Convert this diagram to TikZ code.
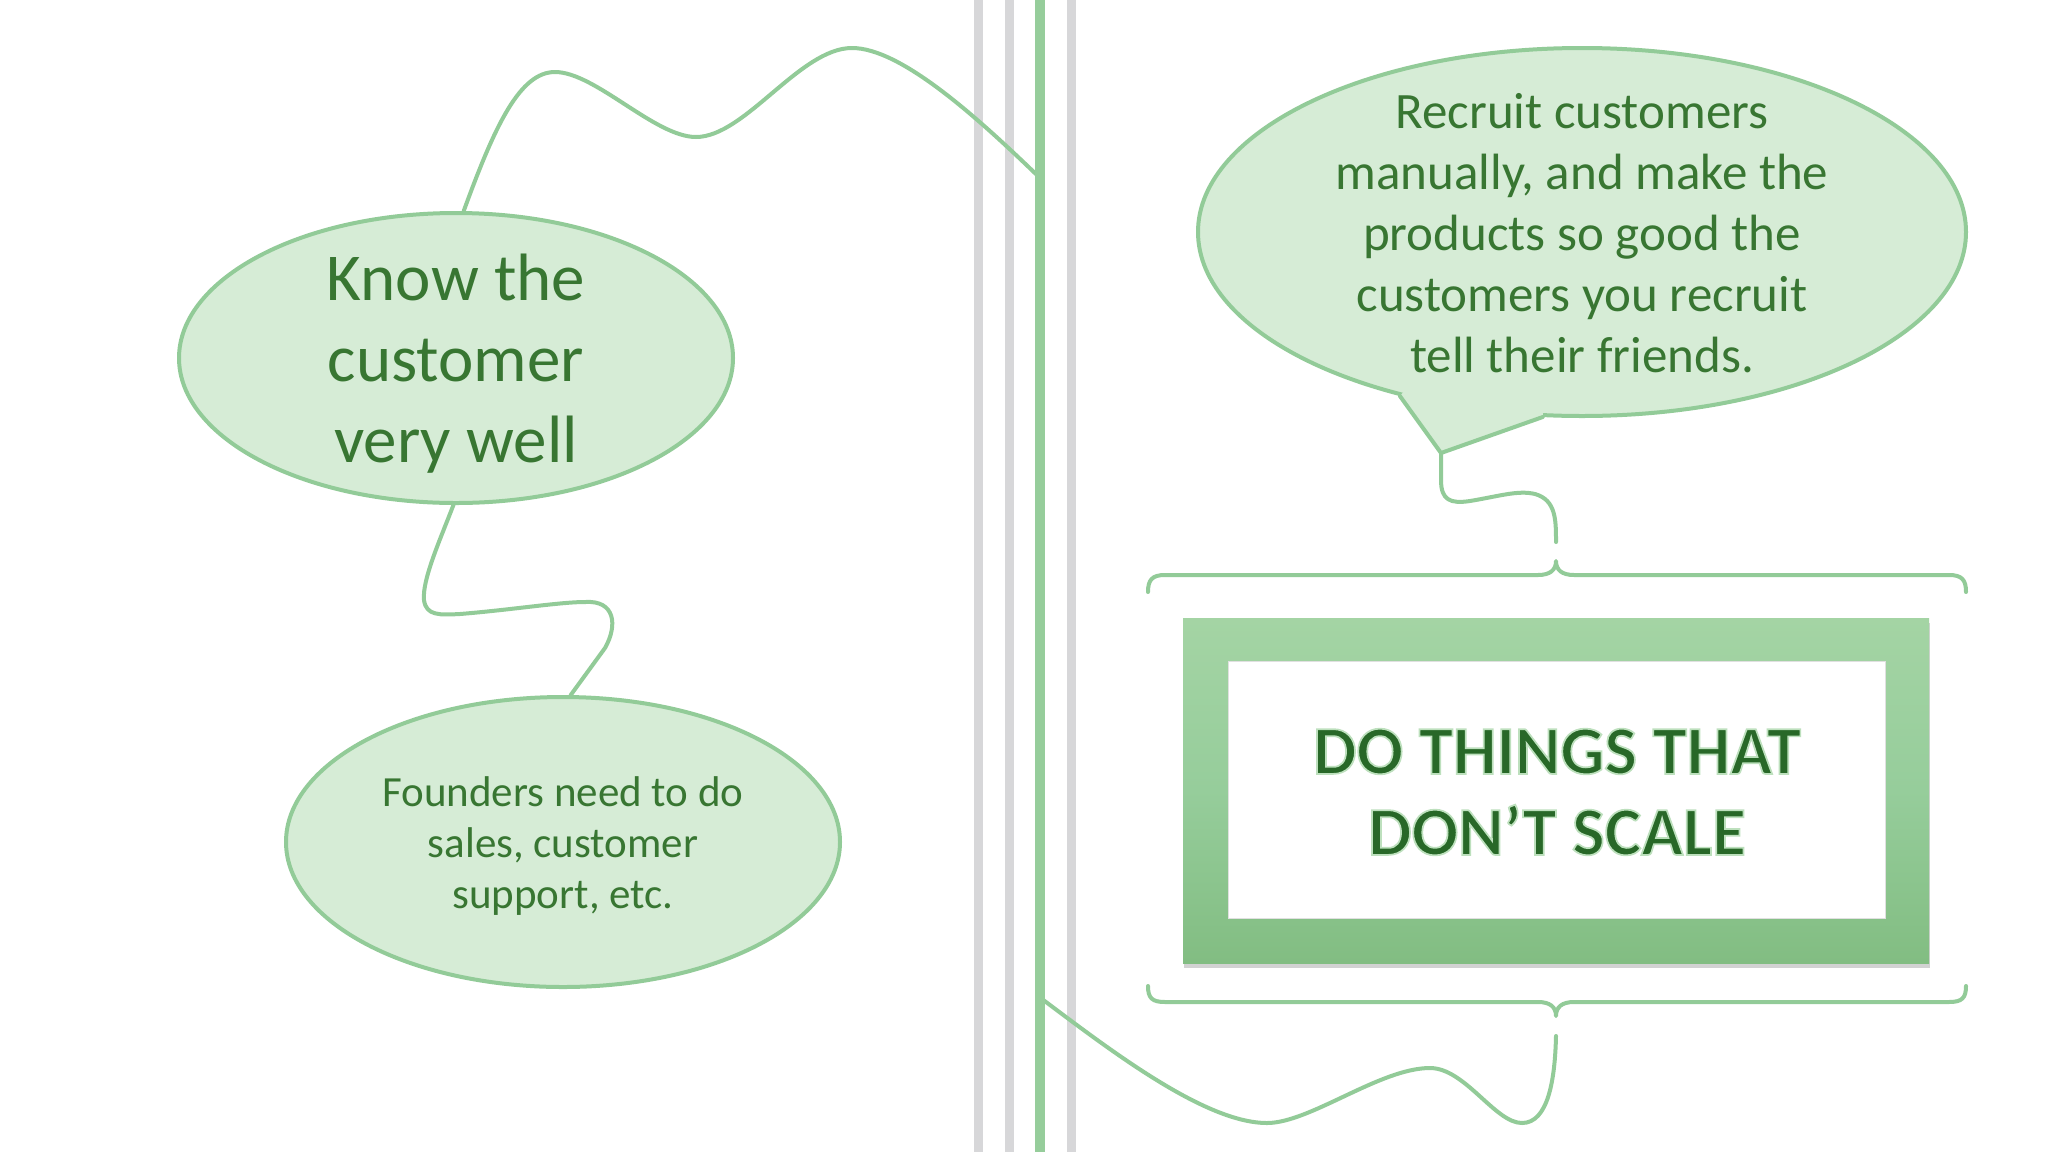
\documentclass[tikz,border=0pt]{standalone}
\usepackage{fontspec}
\setmainfont{Carlito}
\newfontfamily\titlefont{Carlito}[BoldFeatures={FakeBold=2.5}]
\usetikzlibrary{shapes.geometric,shadows}
\definecolor{lgreen}{RGB}{146,203,152}
\definecolor{vgreen}{RGB}{150,205,155}
\definecolor{efill}{RGB}{214,236,214}
\definecolor{tgreen}{RGB}{56,118,50}
\definecolor{ttgreen}{RGB}{40,104,40}
\definecolor{vgray}{RGB}{215,215,217}
\definecolor{ftop}{RGB}{164,212,164}
\definecolor{fbot}{RGB}{130,189,130}
\begin{document}
\begin{tikzpicture}[x=1pt,y=-1pt,
  conn/.style={draw=lgreen,line width=4pt,line cap=round,line join=round},
  bubble/.style={ellipse,draw=lgreen,fill=efill,line width=4pt,inner sep=0pt},
  btext/.style={text=tgreen,align=center,inner sep=0pt},
  vgrayline/.style={draw=vgray,line width=9pt},
  vgreenline/.style={draw=vgreen,line width=10pt},
  bracestyle/.style={draw=lgreen,line width=4pt,line cap=round,line join=round},
]
\useasboundingbox (0,0) rectangle (2048,1152);
\fill[white] (0,0) rectangle (2048,1152);

% vertical lines (gray)
\draw[vgrayline] (978,0) -- (978,1152);
\draw[vgrayline] (1009,0) -- (1009,1152);
\draw[vgrayline] (1071,0) -- (1071,1152);

% ellipses
\node[bubble,minimum width=554pt,minimum height=290pt] (A) at (456,358) {};
\node[bubble,minimum width=554pt,minimum height=290pt] (B) at (563,842) {};
\node[bubble,minimum width=768pt,minimum height=368pt] (C) at (1582,232) {};
\coordinate (tip) at (1441,453);
\fill[efill] (C.222.6) -- (tip) -- (C.258.4) -- (1544,400) -- (1412,383) -- cycle;
\draw[conn] (C.222.6) -- (tip) -- (C.258.4);

\node[btext,font=\fontsize{67}{81}\selectfont] (At) at (456,364) {Know the\\customer\\very well};
\node[btext,font=\fontsize{43}{51}\selectfont] (Bt) at (563,846) {Founders need to do\\sales, customer\\support, etc.};
\node[btext,font=\fontsize{51}{61}\selectfont] (Ct) at (1582,233) {Recruit customers\\manually, and make the\\products so good the\\customers you recruit\\tell their friends.};

% coordinates
\coordinate (gtop) at (1040,178);
\coordinate (gbot) at (1042,999);
\coordinate (tb) at (1556,542);
\coordinate (bb) at (1556,1036);

% connectors
\draw[conn] (A.87) .. controls (495,125) and (520,72) .. (555,72)
  .. controls (595,72) and (655,137) .. (696,137)
  .. controls (745,137) and (800,48) .. (852,48)
  .. controls (900,48) and (975,115) .. (gtop);
\draw[conn] (A.-91) .. controls (440,540) and (422,580) .. (424,600)
  .. controls (426,616) and (440,615) .. (460,614)
  .. controls (510,610) and (560,602) .. (585,602)
  .. controls (615,600) and (618,625) .. (605,648)
  -- (B.87);
\draw[conn] (tip) -- (1441,480) .. controls (1441,500) and (1450,504) .. (1470,501)
  .. controls (1500,496) and (1518,490) .. (1535,494)
  .. controls (1556,500) and (1556,520) .. (tb);
\draw[conn] (bb) .. controls (1555,1080) and (1548,1123) .. (1522,1123)
  .. controls (1495,1123) and (1465,1068) .. (1430,1068)
  .. controls (1380,1068) and (1310,1123) .. (1267,1123)
  .. controls (1205,1123) and (1110,1050) .. (gbot);

% green vertical line
\draw[vgreenline] (1040,0) -- (1040,1152);

% braces
\draw[bracestyle] (1148,592) .. controls (1148,580) and (1152,575) .. (1165,575)
  -- (1538,575) .. controls (1550,575) and (1556,570) .. (1556,561)
  .. controls (1556,570) and (1562,575) .. (1574,575)
  -- (1949,575) .. controls (1962,575) and (1966,580) .. (1966,592);
\draw[bracestyle] (1148,986) .. controls (1148,998) and (1152,1002) .. (1165,1002)
  -- (1538,1002) .. controls (1550,1002) and (1556,1007) .. (1556,1016)
  .. controls (1556,1007) and (1562,1002) .. (1574,1002)
  -- (1949,1002) .. controls (1962,1002) and (1966,998) .. (1966,986);

% frame
\node[rectangle,minimum width=746pt,minimum height=345pt,inner sep=0pt,
  top color=ftop,bottom color=fbot,middle color=vgreen,
  drop shadow={shadow xshift=1pt,shadow yshift=-5pt,opacity=0.35}] (frame) at (1556,790.5) {};
\node[rectangle,minimum width=657pt,minimum height=257pt,inner sep=0pt,fill=white,
  draw=black!12,line width=1pt] (inner) at (1556.5,789.5) {};
\node[text=ttgreen,align=center,inner sep=0pt,font=\titlefont\bfseries\fontsize{69}{81}\selectfont] (title) at (1557,792)
  {\special{pdf:code 0.74 0.88 0.74 RG}DO THINGS THAT\\DON’T SCALE};
\end{tikzpicture}
\end{document}
